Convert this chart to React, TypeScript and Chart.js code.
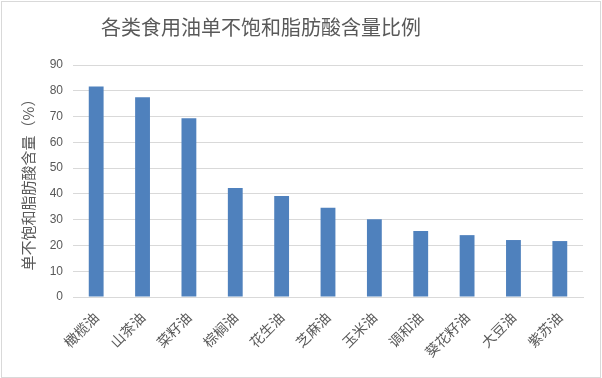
import React, { useEffect, useRef } from "react";
import { Chart, registerables } from "chart.js";

Chart.register(...registerables);

const categories = ["橄榄油", "山茶油", "菜籽油", "棕榈油", "花生油", "芝麻油", "玉米油", "调和油", "葵花籽油", "大豆油", "紫苏油"];
const values = [81.7, 77.5, 69.3, 42.3, 39.2, 34.6, 30.2, 25.6, 24.0, 22.1, 21.7];
const chartTitle = "各类食用油单不饱和脂肪酸含量比例";
const yAxisTitle = "单不饱和脂肪酸含量（%）";

const TEXT = "#595959";
const CJK = '"Noto Sans CJK SC", "Noto Sans", sans-serif';

const titlePlugin = {
  id: "customTitle",
  afterDraw(chart: any) {
    const ctx = chart.ctx;
    ctx.save();
    ctx.font = `20px ${CJK}`;
    ctx.fillStyle = TEXT;
    ctx.textAlign = "center";
    ctx.textBaseline = "middle";
    ctx.fillText(chartTitle, 261, 27);
    ctx.restore();
  },
};

export default function App() {
  const ref = useRef<HTMLCanvasElement | null>(null);
  useEffect(() => {
    document.body.style.margin = "0";
    const chart = new Chart(ref.current!, {
      type: "bar",
      data: {
        labels: categories,
        datasets: [
          {
            data: values,
            backgroundColor: "#4f81bd",
            barPercentage: 0.32,
            categoryPercentage: 1,
          },
        ],
      },
      plugins: [titlePlugin],
      options: {
        animation: false,
        responsive: false,
        devicePixelRatio: 1,
        layout: { padding: { top: 65, right: 19, left: 0, bottom: 0 } },
        plugins: { legend: { display: false }, tooltip: { enabled: false }, title: { display: false } },
        scales: {
          x: {
            grid: { display: false, drawTicks: false },
            border: { display: true, color: "#d9d9d9" },
            ticks: {
              color: TEXT,
              font: { family: CJK, size: 14 },
              minRotation: 45,
              maxRotation: 45,
              padding: 12,
            },
            afterFit(scale: any) {
              scale.height = 81;
            },
          },
          y: {
            min: 0,
            max: 90,
            ticks: { stepSize: 10, color: TEXT, font: { family: "Liberation Sans", size: 12 }, padding: 10 },
            grid: { color: "#d9d9d9", drawTicks: false },
            border: { display: false },
            title: {
              display: true,
              text: yAxisTitle,
              color: TEXT,
              font: { family: CJK, size: 15 },
              padding: { top: 19, bottom: 0 },
            },
            afterFit(scale: any) {
              scale.width = 73;
            },
          },
        },
      },
    });
    return () => chart.destroy();
  }, []);
  return (
    <div
      style={{
        position: "fixed",
        left: 0,
        top: 0,
        width: 602,
        height: 378,
        background: "#fff",
      }}
    >
      <canvas ref={ref} width={602} height={378} style={{ display: "block" }} />
      <div
        style={{
          position: "absolute",
          left: 1,
          top: 1,
          width: 598,
          height: 375,
          border: "1px solid #d9d9d9",
          pointerEvents: "none",
        }}
      />
    </div>
  );
}
